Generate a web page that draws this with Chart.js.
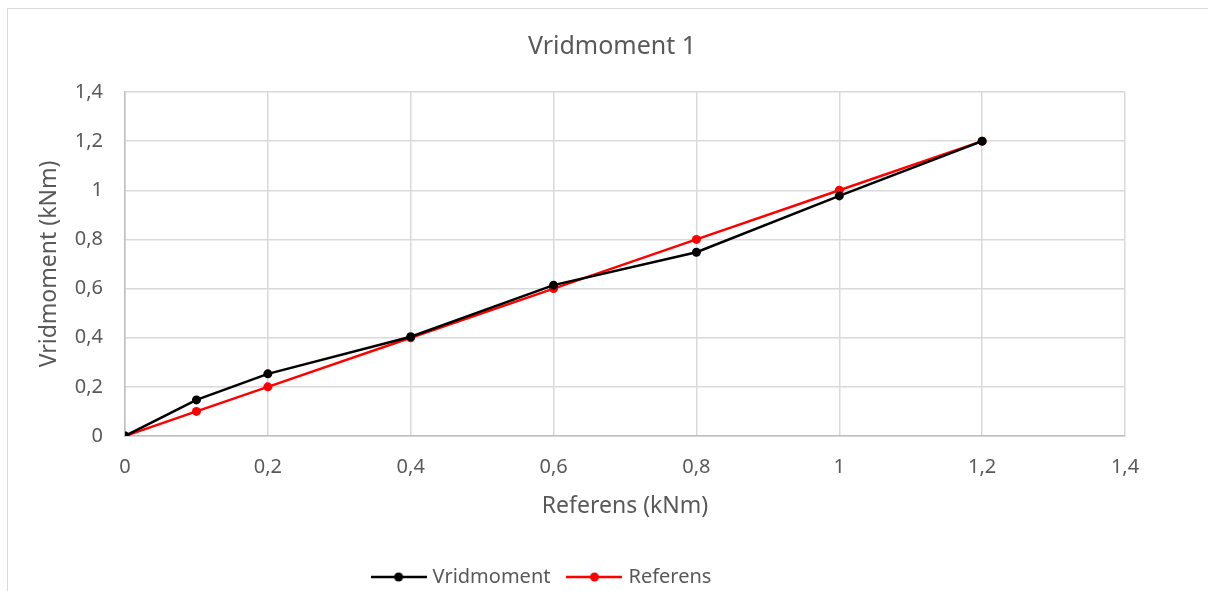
<!DOCTYPE html>
<html lang="sv">

<head>
    <meta charset="UTF-8">
    <title>Vridmoment 1</title>
    <style>
        html, body {
            margin: 0;
            padding: 0;
            background: #fff;
            overflow: hidden;
        }
        .wrap {
            position: relative;
            width: 1208px;
            height: 591px;
        }
        .frame {
            position: absolute;
            left: 7px;
            top: 8px;
            width: 1400px;
            height: 800px;
            border: 1px solid #d9d9d9;
            box-sizing: border-box;
        }
        canvas {
            position: absolute;
            left: 0;
            top: 0;
        }
    </style>
    <script src="https://cdn.jsdelivr.net/npm/chart.js"></script>
</head>

<body>
    <div class="wrap">
        <div class="frame"></div>
        <canvas id="myChart" width="1208" height="591"></canvas>
    </div>

    <script>
        // values
        const referens = [0, 0.1, 0.2, 0.4, 0.6, 0.8, 1.0, 1.2];
        const vridmoment = [0, 0.147, 0.253, 0.404, 0.614, 0.748, 0.977, 1.2];
        const referensLine = [0, 0.1, 0.2, 0.4, 0.6, 0.8, 1.0, 1.2];
        const seriesNames = ['Vridmoment', 'Referens'];
        const seriesColors = ['#000000', '#ff0000'];

        const gray = '#595959';
        const font = '"Noto Sans", "Open Sans", sans-serif';

        function fmt(v) {
            return Number(v.toFixed(1)).toString().replace('.', ',');
        }

        // small line-with-dot marker for the legend
        function legendMarker(color) {
            const c = document.createElement('canvas');
            c.width = 56;
            c.height = 12;
            const g = c.getContext('2d');
            g.strokeStyle = color;
            g.lineWidth = 2.5;
            g.beginPath();
            g.moveTo(0, 6);
            g.lineTo(56, 6);
            g.stroke();
            g.fillStyle = color;
            g.beginPath();
            g.arc(28, 6, 4.5, 0, Math.PI * 2);
            g.fill();
            return c;
        }

        // title centred on the frame, legend nudged like the original
        const shiftBlocks = {
            id: 'shiftBlocks',
            afterLayout(chart) {
                const t = chart.titleBlock;
                t.left = 0;
                t.right = 1224;
                const l = chart.legend;
                l.left = 0;
                l.right = 1086;
                l.top += 6;
                l.bottom += 6;
            }
        };

        const ctx = document.getElementById('myChart');

        new Chart(ctx, {
            type: 'line',
            data: {
                datasets: [{
                    label: seriesNames[0],
                    data: referens.map((x, i) => ({ x: x, y: vridmoment[i] })),
                    borderColor: seriesColors[0],
                    backgroundColor: seriesColors[0],
                    borderWidth: 2.5,
                    pointRadius: 4.5,
                    pointBackgroundColor: seriesColors[0],
                    pointBorderWidth: 0
                }, {
                    label: seriesNames[1],
                    data: referens.map((x, i) => ({ x: x, y: referensLine[i] })),
                    borderColor: seriesColors[1],
                    backgroundColor: seriesColors[1],
                    borderWidth: 2.5,
                    pointRadius: 4.5,
                    pointBackgroundColor: seriesColors[1],
                    pointBorderWidth: 0
                }]
            },
            plugins: [shiftBlocks],
            options: {
                responsive: false,
                animation: false,
                layout: {
                    padding: { left: 0, right: 83, top: 0, bottom: 0 }
                },
                plugins: {
                    title: {
                        display: true,
                        text: 'Vridmoment 1',
                        color: gray,
                        font: { family: font, size: 25, weight: 'normal' },
                        padding: { top: 32, bottom: 30 }
                    },
                    legend: {
                        position: 'bottom',
                        labels: {
                            color: gray,
                            font: { family: font, size: 20 },
                            usePointStyle: true,
                            pointStyleWidth: 48,
                            padding: 20,
                            generateLabels: chart => chart.data.datasets.map((ds, i) => ({
                                text: ds.label,
                                fontColor: gray,
                                pointStyle: legendMarker(ds.borderColor),
                                strokeStyle: ds.borderColor,
                                fillStyle: ds.borderColor,
                                lineWidth: 0,
                                datasetIndex: i
                            }))
                        }
                    },
                    tooltip: { enabled: false }
                },
                scales: {
                    x: {
                        type: 'linear',
                        min: 0,
                        max: 1.4,
                        ticks: {
                            stepSize: 0.2,
                            color: gray,
                            font: { family: font, size: 20 },
                            padding: 19,
                            callback: v => fmt(v)
                        },
                        grid: { color: '#d9d9d9', lineWidth: 1.5, drawTicks: false },
                        border: { color: '#bfbfbf', width: 1.5 },
                        title: {
                            display: true,
                            text: 'Referens (kNm)',
                            color: gray,
                            font: { family: font, size: 23 },
                            padding: { top: 6, bottom: 21 }
                        },
                        afterFit: s => { s.height = 105; }
                    },
                    y: {
                        min: 0,
                        max: 1.4,
                        ticks: {
                            stepSize: 0.2,
                            color: gray,
                            font: { family: font, size: 20 },
                            padding: 22,
                            callback: v => fmt(v)
                        },
                        grid: { color: '#d9d9d9', lineWidth: 1.5, drawTicks: false },
                        border: { color: '#bfbfbf', width: 1.5 },
                        title: {
                            display: true,
                            text: 'Vridmoment (kNm)',
                            color: gray,
                            font: { family: font, size: 23 },
                            padding: { top: 36, bottom: 6 }
                        },
                        afterFit: s => { s.width = 125; }
                    }
                }
            }
        });
    </script>
</body>

</html>
